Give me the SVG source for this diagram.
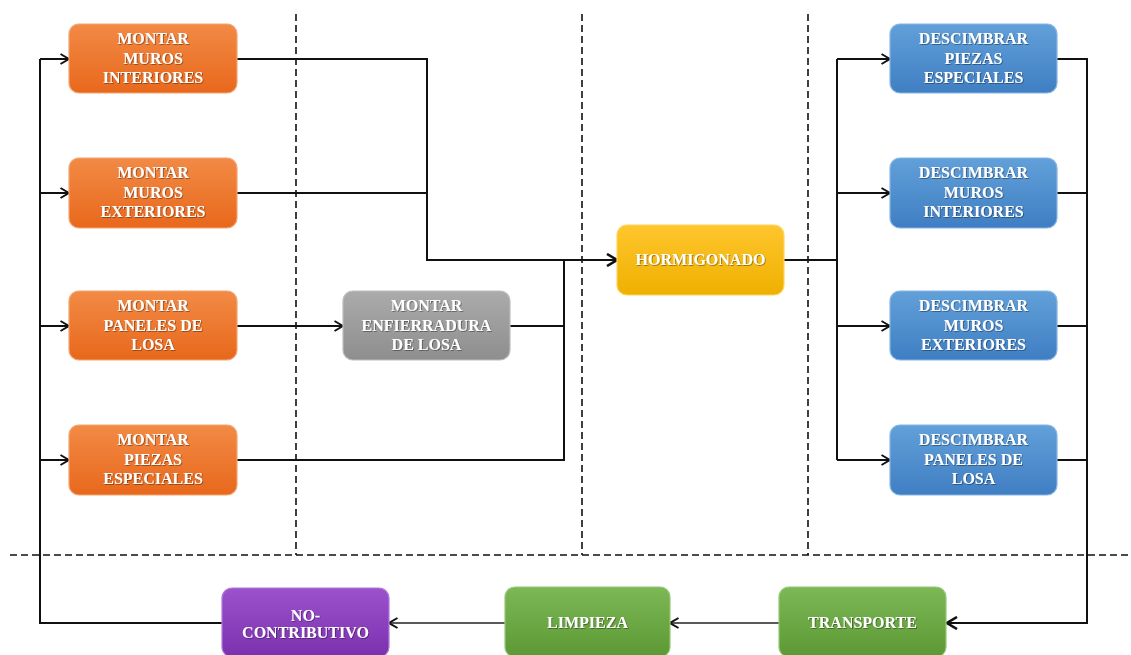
<svg xmlns="http://www.w3.org/2000/svg" width="1131" height="655" viewBox="0 0 1131 655">
  <defs>
    <linearGradient id="gOrange" x1="0" y1="0" x2="0" y2="1">
      <stop offset="0" stop-color="#F28A45"/>
      <stop offset="1" stop-color="#E8681C"/>
    </linearGradient>
    <linearGradient id="gGray" x1="0" y1="0" x2="0" y2="1">
      <stop offset="0" stop-color="#ABABAB"/>
      <stop offset="1" stop-color="#8E8E8E"/>
    </linearGradient>
    <linearGradient id="gYellow" x1="0" y1="0" x2="0" y2="1">
      <stop offset="0" stop-color="#FFC62E"/>
      <stop offset="1" stop-color="#EEB000"/>
    </linearGradient>
    <linearGradient id="gBlue" x1="0" y1="0" x2="0" y2="1">
      <stop offset="0" stop-color="#62A0DA"/>
      <stop offset="1" stop-color="#3F7EC2"/>
    </linearGradient>
    <linearGradient id="gGreen" x1="0" y1="0" x2="0" y2="1">
      <stop offset="0" stop-color="#7CB856"/>
      <stop offset="1" stop-color="#5C9934"/>
    </linearGradient>
    <linearGradient id="gPurple" x1="0" y1="0" x2="0" y2="1">
      <stop offset="0" stop-color="#9C52CC"/>
      <stop offset="1" stop-color="#7B30AE"/>
    </linearGradient>
    <filter id="txtShadow" x="-10%" y="-20%" width="120%" height="140%">
      <feDropShadow dx="0.8" dy="0.8" stdDeviation="0.6" flood-color="#000" flood-opacity="0.45"/>
    </filter>
    <marker id="arrow" viewBox="0 0 10 12" refX="9.5" refY="6" markerWidth="10" markerHeight="12" markerUnits="userSpaceOnUse" orient="auto">
      <path d="M1,1 L9.5,6 L1,11" fill="none" stroke="#111" stroke-width="2"/>
    </marker>
    <marker id="arrowBold" viewBox="0 0 12 14" refX="11" refY="7" markerWidth="12" markerHeight="14" markerUnits="userSpaceOnUse" orient="auto">
      <path d="M1,1 L11,7 L1,13" fill="none" stroke="#111" stroke-width="2.6"/>
    </marker>
  </defs>
  <style>
    .box { stroke-width: 1.2; }
    .orange { fill: url(#gOrange); stroke: #F4A470; }
    .gray { fill: url(#gGray); stroke: #BDBDBD; }
    .yellow { fill: url(#gYellow); stroke: #FFD460; }
    .blue { fill: url(#gBlue); stroke: #86B6E3; }
    .green { fill: url(#gGreen); stroke: #95C876; }
    .purple { fill: url(#gPurple); stroke: #B07BD6; }
    .lbl { font-family: "Liberation Serif", "Times New Roman", serif; font-weight: bold; font-size: 16px; fill: #FFFFFF; text-anchor: middle; filter: url(#txtShadow); }
    .wire { fill: none; stroke: #111; stroke-width: 2; }
    .thin { fill: none; stroke: #222; stroke-width: 1.4; }
    .dash { fill: none; stroke: #111; stroke-width: 1.6; stroke-dasharray: 7 4; }
  </style>

  <rect width="1131" height="655" fill="#FFFFFF"/>

  <!-- phase separators -->
  <g id="separators">
    <path class="dash" d="M10,555 H1131"/>
    <path class="dash" d="M296,14 V555"/>
    <path class="dash" d="M582,14 V555"/>
    <path class="dash" d="M808,14 V555"/>
  </g>

  <!-- connectors -->
  <g id="connectors">
    <!-- return loop into the assembly tasks -->
    <path class="wire" stroke-width="2.6" d="M222,623 H40 V59"/>
    <path class="wire" d="M40,59 H69" marker-end="url(#arrow)"/>
    <path class="wire" d="M40,193 H69" marker-end="url(#arrow)"/>
    <path class="wire" d="M40,326 H69" marker-end="url(#arrow)"/>
    <path class="wire" d="M40,460 H69" marker-end="url(#arrow)"/>
    <!-- assembly to concreting -->
    <path class="wire" d="M237,59 H427 V260 H617" marker-end="url(#arrowBold)"/>
    <path class="wire" d="M237,193 H427"/>
    <path class="wire" d="M237,326 H343" marker-end="url(#arrow)"/>
    <path class="wire" d="M510,326 H564"/>
    <path class="wire" d="M237,460 H564 V260"/>
    <!-- concreting to stripping -->
    <path class="wire" d="M784,260 H837"/>
    <path class="wire" d="M837,59 V460"/>
    <path class="wire" d="M837,59 H890" marker-end="url(#arrow)"/>
    <path class="wire" d="M837,193 H890" marker-end="url(#arrow)"/>
    <path class="wire" d="M837,326 H890" marker-end="url(#arrow)"/>
    <path class="wire" d="M837,460 H890" marker-end="url(#arrow)"/>
    <!-- stripping to transport -->
    <path class="wire" d="M1057,59 H1087 V623 H947" marker-end="url(#arrowBold)"/>
    <path class="wire" d="M1057,193 H1087"/>
    <path class="wire" d="M1057,326 H1087"/>
    <path class="wire" d="M1057,460 H1087"/>
    <!-- bottom chain -->
    <path class="thin" d="M779,623 H670" marker-end="url(#arrow)"/>
    <path class="thin" d="M505,623 H389" marker-end="url(#arrow)"/>
  </g>

  <!-- assembly column -->
  <g id="montar-muros-interiores">
    <rect class="box orange" x="69" y="24" width="168" height="69" rx="10"/>
    <text class="lbl" x="153" y="44">MONTAR</text>
    <text class="lbl" x="153" y="64">MUROS</text>
    <text class="lbl" x="153" y="83">INTERIORES</text>
  </g>
  <g id="montar-muros-exteriores">
    <rect class="box orange" x="69" y="158" width="168" height="70" rx="10"/>
    <text class="lbl" x="153" y="178">MONTAR</text>
    <text class="lbl" x="153" y="198">MUROS</text>
    <text class="lbl" x="153" y="217">EXTERIORES</text>
  </g>
  <g id="montar-paneles-losa">
    <rect class="box orange" x="69" y="291" width="168" height="69" rx="10"/>
    <text class="lbl" x="153" y="311">MONTAR</text>
    <text class="lbl" x="153" y="331">PANELES DE</text>
    <text class="lbl" x="153" y="350">LOSA</text>
  </g>
  <g id="montar-piezas-especiales">
    <rect class="box orange" x="69" y="425" width="168" height="70" rx="10"/>
    <text class="lbl" x="153" y="445">MONTAR</text>
    <text class="lbl" x="153" y="465">PIEZAS</text>
    <text class="lbl" x="153" y="484">ESPECIALES</text>
  </g>

  <g id="montar-enfierradura">
    <rect class="box gray" x="343" y="291" width="167" height="69" rx="10"/>
    <text class="lbl" x="426.5" y="311">MONTAR</text>
    <text class="lbl" x="426.5" y="331">ENFIERRADURA</text>
    <text class="lbl" x="426.5" y="350">DE LOSA</text>
  </g>

  <g id="hormigonado">
    <rect class="box yellow" x="617" y="225" width="167" height="70" rx="10"/>
    <text class="lbl" x="700.5" y="265">HORMIGONADO</text>
  </g>

  <!-- stripping column -->
  <g id="descimbrar-piezas-especiales">
    <rect class="box blue" x="890" y="24" width="167" height="69" rx="10"/>
    <text class="lbl" x="973.5" y="44">DESCIMBRAR</text>
    <text class="lbl" x="973.5" y="64">PIEZAS</text>
    <text class="lbl" x="973.5" y="83">ESPECIALES</text>
  </g>
  <g id="descimbrar-muros-interiores">
    <rect class="box blue" x="890" y="158" width="167" height="70" rx="10"/>
    <text class="lbl" x="973.5" y="178">DESCIMBRAR</text>
    <text class="lbl" x="973.5" y="198">MUROS</text>
    <text class="lbl" x="973.5" y="217">INTERIORES</text>
  </g>
  <g id="descimbrar-muros-exteriores">
    <rect class="box blue" x="890" y="291" width="167" height="69" rx="10"/>
    <text class="lbl" x="973.5" y="311">DESCIMBRAR</text>
    <text class="lbl" x="973.5" y="331">MUROS</text>
    <text class="lbl" x="973.5" y="350">EXTERIORES</text>
  </g>
  <g id="descimbrar-paneles-losa">
    <rect class="box blue" x="890" y="425" width="167" height="70" rx="10"/>
    <text class="lbl" x="973.5" y="445">DESCIMBRAR</text>
    <text class="lbl" x="973.5" y="465">PANELES DE</text>
    <text class="lbl" x="973.5" y="484">LOSA</text>
  </g>

  <!-- bottom row -->
  <g id="transporte">
    <rect class="box green" x="779" y="587" width="167" height="70" rx="10"/>
    <text class="lbl" x="862.5" y="628">TRANSPORTE</text>
  </g>
  <g id="limpieza">
    <rect class="box green" x="505" y="587" width="165" height="70" rx="10"/>
    <text class="lbl" x="587.5" y="628">LIMPIEZA</text>
  </g>
  <g id="no-contributivo">
    <rect class="box purple" x="222" y="588" width="167" height="69" rx="10"/>
    <text class="lbl" x="305.5" y="621">NO-</text>
    <text class="lbl" x="305.5" y="638">CONTRIBUTIVO</text>
  </g>
</svg>
